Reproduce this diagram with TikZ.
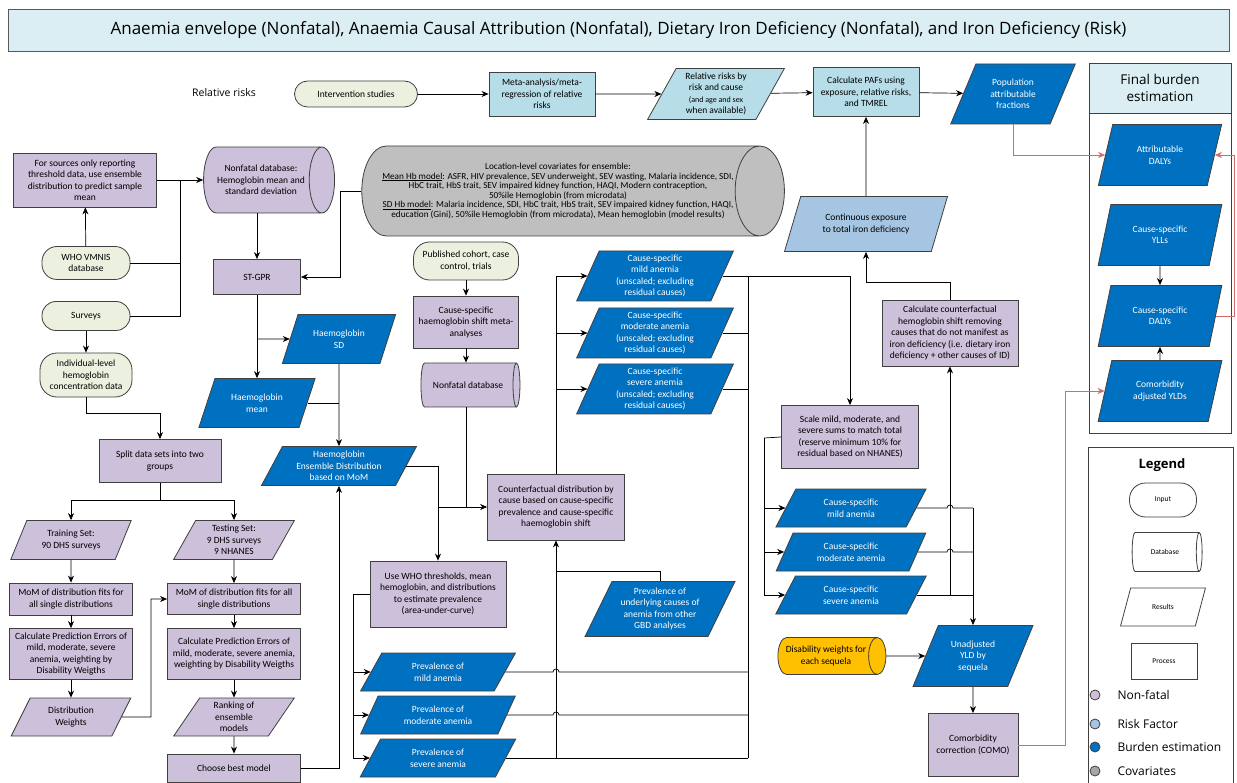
\documentclass[tikz,border=0pt]{standalone}
\usepackage{fontspec}
\setmainfont{Carlito}
\newfontfamily\headfont{Open Sans}
\usetikzlibrary{shapes.geometric, arrows.meta, calc}

\definecolor{nonfatal}{HTML}{CCC0DA}
\definecolor{riskbox}{HTML}{B7DDE8}
\definecolor{riskfac}{HTML}{A6C5E2}
\definecolor{burden}{HTML}{0070C0}
\definecolor{covgray}{HTML}{BFBFBF}
\definecolor{covdot}{HTML}{A6A6A6}
\definecolor{inputgreen}{HTML}{EBF1DE}
\definecolor{headblue}{HTML}{DAEEF3}
\definecolor{dwgold}{HTML}{FFC000}
\definecolor{linkred}{HTML}{D46A66}
\definecolor{edge}{HTML}{404040}

\begin{document}
\begin{tikzpicture}[
        x=1pt, y=-1pt,
        % styles
        wh/.style 2 args={minimum width=#1pt, minimum height=#2pt},
        dbwh/.style 2 args={minimum width=#2pt, minimum height=#1pt},
        base/.style={draw=edge, line width=0.8pt, align=center, inner sep=1pt, font=\fontsize{9.5}{11.5}\selectfont},
        inputbox/.style={base, rectangle, rounded corners=13pt, fill=inputgreen},
        process/.style={base, rectangle, fill=nonfatal},
        result/.style={base, trapezium, trapezium left angle=63, trapezium right angle=117, trapezium stretches=true, fill=burden, text=white},
        steep/.style={trapezium left angle=70, trapezium right angle=110},
        nfresult/.style={result, fill=nonfatal, text=black},
        database/.style={base, cylinder, aspect=0.8, fill=nonfatal},
        legfont/.style={font=\fontsize{7.5}{9}\selectfont},
        arrow/.style={line width=0.7pt, -{Stealth[length=7pt, width=6pt]}},
        line/.style={line width=0.7pt},
        redarrow/.style={arrow, draw=linkred}
    ]

    \path[fill=white] (0,0) rectangle (1237,783);
    \useasboundingbox (0,0) rectangle (1237,783);

    % title
    \node (title) [draw=gray!70!black, fill=headblue, wh={1221}{42}, font=\headfont\fontsize{17}{20}\selectfont] at (618.5,30) {Anaemia envelope (Nonfatal), Anaemia Causal Attribution (Nonfatal), Dietary Iron Deficiency (Nonfatal), and Iron Deficiency (Risk)};

    % relative risks row
    \node (rrlabel) [font=\headfont\fontsize{10.5}{12}\selectfont] at (224,93) {Relative risks};
    \node (inter)   [inputbox, wh={123}{26}] at (356,94) {Intervention studies};
    \node (meta)    [process, fill=riskbox, wh={106}{44}] at (542,94) {Meta-analysis/meta-\\regression of relative\\risks};
    \node (rrcause) [result, fill=riskbox, text=black, wh={137}{51}] at (716,94) {Relative risks by\\risk and cause\\\fontsize{8}{9.5}\selectfont(and age and sex\\when available)};
    \node (pafcalc) [process, fill=riskbox, wh={106}{49}] at (866,92) {Calculate PAFs using\\exposure, relative risks,\\and TMREL};
    \node (popaf)   [result, wh={125}{60}] at (1013,94) {Population\\attributable\\fractions};

    % final burden estimation
    \node (fbpanel) [draw=edge, line width=0.8pt, wh={142}{370}] at (1160,248) {};
    \node (fbhead)  [draw=edge, line width=0.8pt, fill=headblue, wh={142}{50}, align=center, font=\headfont\fontsize{13.5}{17}\selectfont] at (1160,88) {Final burden\\estimation};
    \node (attdaly) [result, steep, wh={124}{61}] at (1160,155) {Attributable\\DALYs};
    \node (yll)     [result, steep, wh={124}{61}] at (1160,235) {Cause-specific\\YLLs};
    \node (csdaly)  [result, steep, wh={124}{61}] at (1160,316) {Cause-specific\\DALYs};
    \node (yld)     [result, steep, wh={124}{61}] at (1160,391) {Comorbidity\\adjusted YLDs};

    % column 1: input data and ensemble weights
    \node (sources) [process, wh={143}{54}] at (85,180) {For sources only reporting\\threshold data, use ensemble\\distribution to predict sample\\mean};
    \node (nfdb)    [database, dbwh={131}{66}] at (261,180) {Nonfatal database:\\Hemoglobin mean and\\standard deviation};
    \node (vmnis)   [inputbox, rounded corners=15pt, wh={88}{33}] at (86,263) {WHO VMNIS\\database};
    \node (surveys) [inputbox, rounded corners=14pt, wh={88}{29}] at (86,316) {Surveys};
    \node (indiv)   [inputbox, rounded corners=17pt, wh={92}{44}] at (86,375) {Individual-level\\hemoglobin\\concentration data};
    \node (split)   [process, wh={122}{43}] at (160,461) {Split data sets into two\\groups};
    \node (train)   [nfresult, wh={121}{39}] at (71,540) {Training Set:\\90 DHS surveys};
    \node (test)    [nfresult, wh={121}{39}] at (234,540) {Testing Set:\\9 DHS surveys\\9 NHANES};
    \node (momtr)   [process, wh={123}{32}] at (71,599) {MoM of distribution fits for\\all single distributions};
    \node (momte)   [process, wh={133}{31}] at (234,599) {MoM of distribution fits for all\\single distributions};
    \node (petr)    [process, wh={123}{51}] at (71,654) {Calculate Prediction Errors of\\mild, moderate, severe\\anemia, weighting by\\Disability Weigths};
    \node (pete)    [process, wh={133}{51}] at (234,654) {Calculate Prediction Errors of\\mild, moderate, severe anemia,\\weighting by Disability Weigths};
    \node (dw)      [nfresult, wh={120}{38}] at (71,717) {Distribution\\Weights};
    \node (rank)    [nfresult, wh={121}{38}] at (234,717) {Ranking of\\ensemble\\models};
    \node (best)    [process, wh={133}{28}] at (234,768) {Choose best model};

    % column 2: haemoglobin modelling
    \node (stgpr)   [process, wh={87}{35}] at (257,277) {ST-GPR};
    \node (covar)   [database, fill=covgray, aspect=0.85, dbwh={403}{90}, font=\fontsize{9.2}{9.6}\selectfont] at (558,191) {Location-level covariates for ensemble:\\\underline{Mean Hb model}: ASFR, HIV prevalence, SEV underweight, SEV wasting, Malaria incidence, SDI,\\HbC trait, HbS trait, SEV impaired kidney function, HAQI, Modern contraception,\\50\%ile Hemoglobin (from microdata)\\\underline{SD Hb model}: Malaria incidence, SDI, HbC trait, HbS trait, SEV impaired kidney function, HAQI,\\education (Gini), 50\%ile Hemoglobin (from microdata), Mean hemoglobin (model results)};
    \node (hbsd)    [result, wh={114}{49}] at (339,339) {Haemoglobin\\SD};
    \node (hbmean)  [result, wh={117}{49}] at (257,403) {Haemoglobin\\mean};
    \node (ens)     [result, wh={155}{39}] at (339,466) {Haemoglobin\\Ensemble Distribution\\based on MoM};

    % column 3: causal attribution
    \node (pub)     [inputbox, rounded corners=16pt, wh={105}{38}] at (466,261) {Published cohort, case\\control, trials};
    \node (shift)   [process, wh={105}{52}] at (466,322) {Cause-specific\\haemoglobin shift meta-\\analyses};
    \node (nfdb2)   [database, dbwh={99}{44}] at (468,385) {Nonfatal database};
    \node (cf)      [process, wh={137}{66}] at (556,507) {Counterfactual distribution by\\cause based on cause-specific\\prevalence and cause-specific\\haemoglobin shift};
    \node (csmild)  [result, steep, wh={157}{50}] at (655,276) {Cause-specific\\mild anemia\\(unscaled; excluding\\residual causes)};
    \node (csmod)   [result, steep, wh={157}{50}] at (655,333) {Cause-specific\\moderate anemia\\(unscaled; excluding\\residual causes)};
    \node (cssev)   [result, steep, wh={157}{50}] at (655,389) {Cause-specific\\severe anemia\\(unscaled; excluding\\residual causes)};
    \node (who)     [process, wh={136}{66}] at (438,594) {Use WHO thresholds, mean\\hemoglobin, and distributions\\to estimate prevalence\\(area-under-curve)};
    \node (pmild)   [result, wh={156}{38}] at (438,672) {Prevalence of\\mild anemia};
    \node (pmod)    [result, wh={156}{38}] at (438,715) {Prevalence of\\moderate anemia};
    \node (psev)    [result, wh={156}{38}] at (438,758) {Prevalence of\\severe anemia};
    \node (under)   [result, wh={150}{55}] at (660,609) {Prevalence of\\underlying causes of\\anemia from other\\GBD analyses};

    % column 4: exposure and YLDs
    \node (contexp) [result, fill=riskfac, text=black, wh={163}{55}] at (866,224) {Continuous exposure\\to total iron deficiency};
    \node (cfshift) [process, wh={136}{66}] at (950,333) {Calculate counterfactual\\hemoglobin shift removing\\causes that do not manifest as\\iron deficiency (i.e. dietary iron\\deficiency + other causes of ID)};
    \node (scale)   [process, wh={137}{63}] at (850,437) {Scale mild, moderate, and\\severe sums to match total\\(reserve minimum 10\% for\\residual based on NHANES)};
    \node (smild)   [result, wh={151}{38}] at (851,508) {Cause-specific\\mild anemia};
    \node (smod)    [result, wh={151}{38}] at (851,552) {Cause-specific\\moderate anemia};
    \node (ssev)    [result, wh={151}{38}] at (851,595) {Cause-specific\\severe anemia};
    \node (disw)    [database, fill=dwgold, dbwh={108}{37}] at (826,656) {Disability weights for\\each sequela};
    \node (ulyd)    [result, wh={121}{61}] at (973,656) {Unadjusted\\YLD by\\sequela};
    \node (como)    [process, wh={90}{63}] at (973,745) {Comorbidity\\correction (COMO)};

    % legend
    \node (legpanel) [draw=edge, line width=0.8pt, wh={145}{345}, anchor=north west] at (1088,447) {};
    \node (legtitle) [font=\headfont\bfseries\fontsize{13}{15}\selectfont] at (1162,465) {Legend};
    \node (legin)    [inputbox, fill=white, rounded corners=16pt, legfont, wh={67}{34}] at (1163,500) {Input};
    \node (legdb)    [database, fill=white, legfont, dbwh={70}{39}] at (1165,552) {Database};
    \node (legres)   [result, fill=white, text=black, legfont, wh={85}{38}] at (1163,607) {Results};
    \node (legproc)  [process, fill=white, legfont, wh={66}{36}] at (1164,661) {Process};
    \foreach \y/\col/\lab [count=\i] in {695/nonfatal/Non-fatal, 724/riskfac/Risk Factor, 747/burden/Burden estimation, 771/covdot/Covariates} {
        \node (dot\i) [circle, draw=edge, line width=0.8pt, fill=\col, minimum size=10pt, inner sep=0pt] at (1095,\y) {};
        \node (lab\i) [anchor=west, font=\headfont\fontsize{12}{14}\selectfont] at (1114,\y) {\lab};
    }

    % connections: relative risks
    \draw [arrow] (inter) -- (meta);
    \draw [arrow] (meta) -- (rrcause);
    \draw [arrow] (rrcause) -- (pafcalc);
    \draw [arrow] (pafcalc) -- (popaf);
    \draw [arrow] (contexp.north) -- (pafcalc.south);

    % connections: final burden
    \draw [redarrow] (popaf.south) |- (attdaly.west);
    \draw [redarrow] (csdaly.east) -- ++(18,0) |- (attdaly.east);
    \draw [redarrow] (como.east) -- ++(47,0) |- (yld.west);
    \draw [arrow] (yll) -- (csdaly);
    \draw [arrow] (yld) -- (csdaly);

    % connections: column 1
    \coordinate (srcj) at (180,180);
    \draw [arrow] (vmnis) -- (sources);
    \draw [arrow] (sources.east) -- (nfdb.west);
    \draw [line] (vmnis.east) -| (srcj);
    \draw [line] (surveys.east) -| (srcj);
    \draw [arrow] (surveys) -- (indiv);
    \draw [arrow] (indiv.south) -- ++(0,16) -| (split.north);
    \coordinate (splitj) at (160,500);
    \draw [line] (split.south) -- (splitj);
    \draw [arrow] (splitj) -| (train.north);
    \draw [arrow] (splitj) -| (test.north);
    \draw [arrow] (train) -- (momtr);
    \draw [arrow] (momtr) -- (petr);
    \draw [arrow] (petr) -- (dw);
    \draw [arrow] (test) -- (momte);
    \draw [arrow] (momte) -- (pete);
    \draw [arrow] (pete) -- (rank);
    \draw [arrow] (rank) -- (best);
    \coordinate (dwj) at (151,717);
    \draw [arrow] (dw.east) -- (dwj) |- (momte.west);
    \draw [arrow] (best.east) -| (ens.south);

    % connections: column 2
    \coordinate (covj) at (340,191);
    \draw [arrow] (nfdb.south -| stgpr.north) -- (stgpr.north);
    \draw [arrow] (covar.west) -- (covj) |- (stgpr.east);
    \draw [arrow] (stgpr) -- (hbmean);
    \coordinate (sdj) at (257,339);
    \draw [arrow] (sdj) -- (hbsd.west);
    \draw [arrow] (hbsd) -- (ens);
    \draw [line] (hbmean.east) -- (hbmean.east -| ens.north);
    \draw [arrow] (ens.east) -| (who.north);
    \coordinate (cfj) at (438,507);
    \draw [arrow] (cfj) -- (cf.west);

    % connections: column 3
    \draw [arrow] (pub) -- (shift);
    \draw [arrow] (shift) -- (nfdb2.north -| shift.south);
    \draw [line] (nfdb2.south -| shift.south) -- (shift.south |- cf.west);
    \draw [line] (cf.north) -- (cf.north |- csmild.west);
    \foreach \n in {csmild, csmod, cssev}
        \draw [arrow] (cf.north |- \n.west) -- (\n.west);
    \coordinate (colA) at (748,276);
    \coordinate (colB) at (748,758);
    \draw [line] (colB) -- (colA);
    \draw [arrow] (csmild.east) -| (scale.north);
    \draw [line] (csmod.east) -- (csmod.east -| colA);
    \draw [line] (cssev.east) -- (cssev.east -| colA);
    \coordinate (whoj) at (353,594);
    \draw [line] (who.west) -- (whoj);
    \foreach \n in {pmild, pmod, psev}
        \draw [arrow] (whoj) |- (\n.west);
    \foreach \n in {pmild, pmod}
        \draw [line] (\n.east) -- ($(\n.east -| cf.south)+(-3,0)$) arc[start angle=180, end angle=0, radius=3pt] -- (\n.east -| colA);
    \draw [line] (psev.east) -- (psev.east -| colA);
    \draw [arrow] (cf.south |- psev.east) -- (cf.south);
    \draw [line] (under.north) |- ($(under.north -| cf.south)+(0,-10)$);

    % connections: column 4
    \draw [arrow] (cfshift.north) -- ++(0,-17) -| (contexp.south);
    \coordinate (sclj) at (764,438);
    \draw [line] (scale.west) -- (sclj);
    \foreach \n in {smild, smod, ssev}
        \draw [arrow] (sclj) |- (\n.west);
    \foreach \n in {smild, smod}
        \draw [line] (\n.east) -- ($(\n.east -| cfshift.south)+(-3,0)$) arc[start angle=180, end angle=0, radius=3pt] -- (\n.east -| ulyd.north);
    \draw [line] (ssev.east) -- (ssev.east -| ulyd.north);
    \draw [arrow] (smild.east -| ulyd.north) -- (ulyd.north);
    \draw [arrow] (cfshift.south |- ssev.east) -- (cfshift.south);
    \draw [arrow] (disw) -- (ulyd);
    \draw [arrow] (ulyd) -- (como);

\end{tikzpicture}
\end{document}
